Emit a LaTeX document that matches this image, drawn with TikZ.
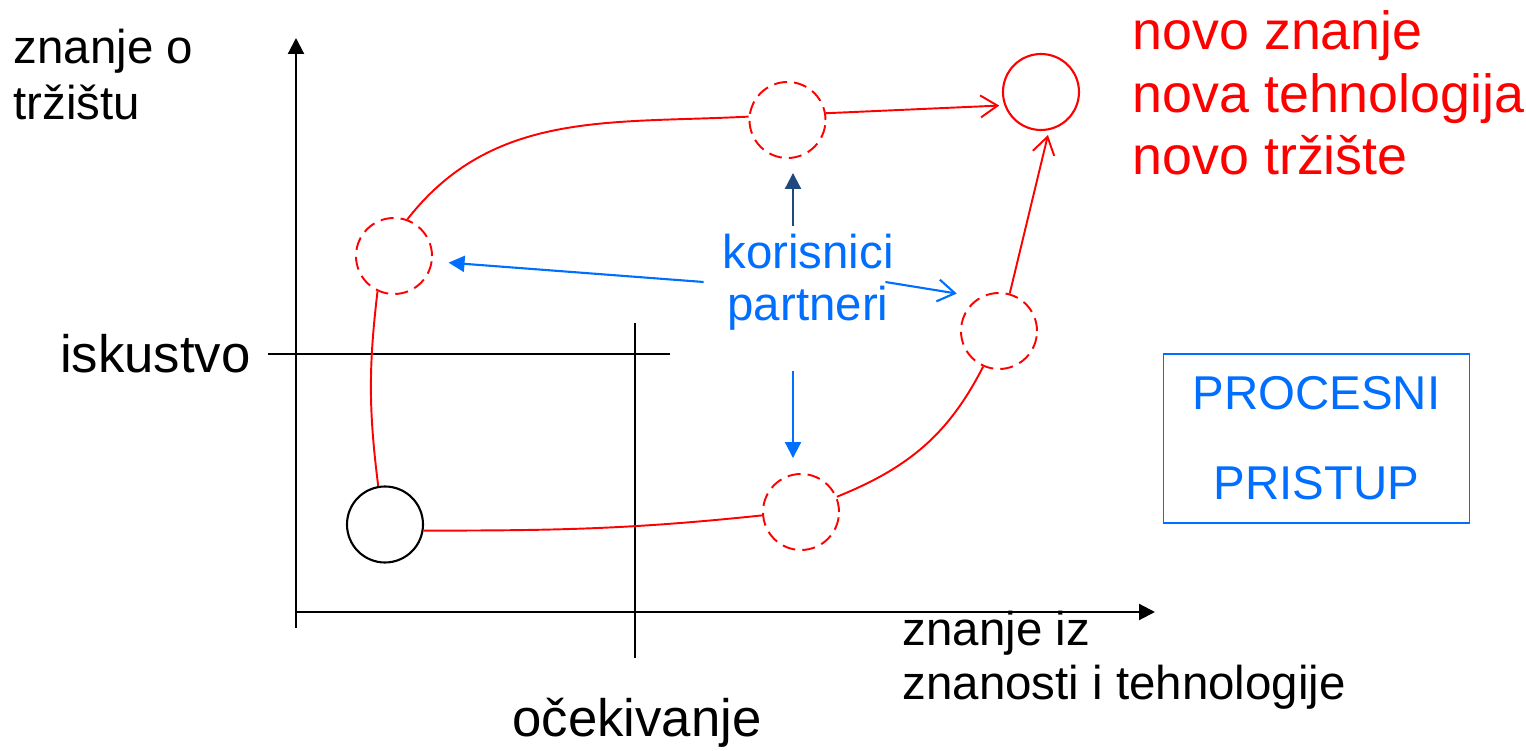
\documentclass[tikz,border=0pt]{standalone}
\usepackage{fontspec}
\setmainfont{Liberation Sans}
\usetikzlibrary{arrows.meta,positioning}

\definecolor{crvena}{RGB}{255,0,0}
\definecolor{plava}{RGB}{0,110,255}
\definecolor{okvirplava}{RGB}{40,125,255}
\definecolor{tamnoplava}{RGB}{31,73,125}

\begin{document}
\begin{tikzpicture}[
    krug/.style={circle, draw, line width=0.6pt, minimum size=7.6mm, inner sep=0pt},
    crtkano/.style={krug, draw=crvena, line width=0.55pt, dash pattern=on 3.7pt off 2pt},
    put/.style={draw=crvena, line width=0.55pt},
    barb/.style={-{Straight Barb[length=1.7mm,width=2.2mm]}},
    trokut/.style={-{Triangle[length=1.6mm,width=1.6mm]}},
    velika/.style={font=\fontsize{15}{17.9}\selectfont},
    mala/.style={font=\fontsize{13.5}{15.6}\selectfont}
  ]
  \useasboundingbox (0,0) rectangle (15.26,-7.51);

  % axes
  \coordinate (Ydno) at (2.96,-6.28);
  \coordinate (Y) at (2.96,-0.38);
  \coordinate (O) at (2.96,-6.12);
  \coordinate (X) at (11.55,-6.12);
  \draw[line width=0.6pt, trokut] (Ydno) -- (Y);
  \draw[line width=0.6pt, trokut] (O) -- (X);

  % iskustvo / ocekivanje lines
  \coordinate (I1) at (2.68,-3.54);
  \coordinate (I2) at (6.70,-3.54);
  \coordinate (E1) at (6.35,-3.23);
  \coordinate (E2) at (6.35,-6.58);
  \draw[line width=0.5pt] (I1) -- (I2);
  \draw[line width=0.5pt] (E1) -- (E2);

  % stages
  \node[krug] (poc) at (3.85,-5.245) {};
  \node[crtkano] (lijevo) at (3.94,-2.56) {};
  \node[crtkano] (gore) at (7.875,-1.20) {};
  \node[krug, draw=crvena] (cilj) at (10.41,-0.92) {};
  \node[crtkano] (desno) at (9.99,-3.31) {};
  \node[crtkano] (dolje) at (8.01,-5.12) {};

  % red paths
  \draw[put] (poc.100) to[bend left=7] (lijevo.-115);
  \draw[put] (lijevo.70) to[out=52,in=183] (gore.175);
  \draw[put, barb, shorten >=0.5mm] (gore.10) -- (cilj.200);
  \draw[put] (poc.-9) to[out=0,in=186] (dolje.185);
  \draw[put] (dolje.23) to[out=22,in=-117] (desno.-114);
  \draw[put, barb, shorten >=0.5mm] (desno.74) -- (cilj.-78);

  % korisnici, partneri
  \node[mala, plava, align=center, inner sep=2pt,
        font=\fontsize{13.5}{14.8}\selectfont] (kor) at (8.08,-2.82) {korisnici\\partneri};
  \draw[tamnoplava, line width=0.6pt, trokut, shorten >=1.4mm]
    ([xshift=-1.5mm]kor.north) -- ([xshift=-1.5mm]kor.north |- gore.south);
  \draw[plava, line width=0.6pt, trokut, shorten >=1.5mm, shorten <=3.3mm]
    ([xshift=-1.5mm]kor.south) -- ([xshift=-1.5mm]kor.south |- dolje.north);
  \draw[plava, line width=0.6pt, trokut, shorten >=1.6mm]
    ([xshift=-1.1mm]kor.west) -- (lijevo.-8);
  \draw[plava, line width=0.6pt, barb, shorten >=2.3mm]
    ([xshift=-1.6mm]kor.east) -- (desno.120);

  % labels (base = last line)
  \node[mala, align=left, anchor=base west, inner sep=0pt,
        font=\fontsize{13.5}{16.2}\selectfont] (trziste) at (0.13,-1.20) {znanje o\\tržištu};
  \node[velika, left=0.05cm of I1] (isk) {iskustvo};
  \node[velika, anchor=base] (ocek) at (6.37,-7.37) {očekivanje};
  \node[mala, align=left, anchor=base west, inner sep=0pt] (znanost) at (9.02,-7.00)
    {znanje iz\\znanosti i tehnologije};
  \node[crvena, align=left, anchor=base west, inner sep=0pt,
        font=\fontsize{15.3}{17.9}\selectfont] (novo) at (11.32,-1.75)
    {novo znanje\\nova tehnologija\\novo tržište};

  % procesni pristup
  \node[draw=okvirplava, line width=0.5pt, plava, align=center, inner sep=0pt,
        minimum width=3.06cm, minimum height=1.69cm,
        font=\fontsize{13.5}{25.6}\selectfont] (proces) at (13.165,-4.385)
    {PROCESNI\hspace{0.28em}\\PRISTUP};
\end{tikzpicture}
\end{document}
